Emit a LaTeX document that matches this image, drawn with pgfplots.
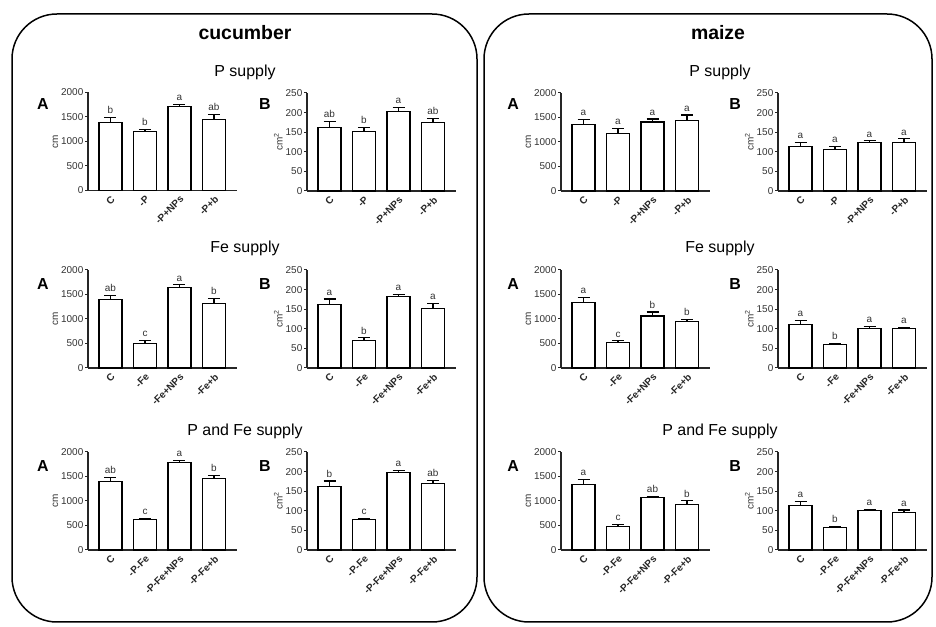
\documentclass[border=0pt]{standalone}
\usepackage{fontspec}
\setmainfont{Liberation Sans}
\usepackage{pgfplots}
\usepackage{pgfplotstable}
\pgfplotsset{compat=1.18}

\pgfplotstableread{
x y e lbl
0 1390 96 b
1 1199 54 b
2 1712 48 a
3 1452 96 ab
}\cucPA
\pgfplotstableread{
x y e lbl
0 162 15 ab
1 152 11 b
2 202 12 a
3 174 12 ab
}\cucPB
\pgfplotstableread{
x y e lbl
0 1354 109 a
1 1177 95 a
2 1408 61 a
3 1435 116 a
}\maiPA
\pgfplotstableread{
x y e lbl
0 113.6 10 a
1 106 8 a
2 123 5 a
3 124.6 8.5 a
}\maiPB
\pgfplotstableread{
x y e lbl
0 1392 94 ab
1 500 68 c
2 1642 54 a
3 1318 101 b
}\cucFA
\pgfplotstableread{
x y e lbl
0 161 15 a
1 71 6 b
2 181.6 6.5 a
3 152 12.7 a
}\cucFB
\pgfplotstableread{
x y e lbl
0 1345 101 a
1 520 34 c
2 1061 81 b
3 953 33 b
}\maiFA
\pgfplotstableread{
x y e lbl
0 112 9.6 a
1 59 3.5 b
2 100 6 a
3 100 3 a
}\maiFB
\pgfplotstableread{
x y e lbl
0 1390 88 ab
1 630 21 c
2 1783 41 a
3 1458 61 b
}\cucPFA
\pgfplotstableread{
x y e lbl
0 161 15 b
1 78 2 c
2 197.5 5 a
3 169.5 7.5 ab
}\cucPFB
\pgfplotstableread{
x y e lbl
0 1336 108 a
1 481 48 c
2 1064 34 ab
3 922 81 b
}\maiPFA
\pgfplotstableread{
x y e lbl
0 113 10 a
1 57 4 b
2 100 3 a
3 95 7 a
}\maiPFB

\pgfplotsset{
 panel/.style={
  scale only axis, width=149bp, height=98bp, anchor=south west,
  xmin=-0.652, xmax=3.667, ymin=0,
  axis x line*=bottom, axis y line*=left,
  axis line style={line width=1.1bp, black!85},
  xtick={0,1,2,3},
  x tick label style={rotate=45, anchor=north east, font=\bfseries\fontsize{10}{11}\selectfont, inner sep=1bp, text=black!85},
  y tick label style={font=\fontsize{10}{11}\selectfont, text=black!80, inner sep=1.5bp},
  /pgf/number format/assume math mode=true,
  /pgf/number format/1000 sep={},
  tick align=outside,
  x tick style={draw=none},
  y tick style={line width=1bp, black!85},
  major tick length=3bp,
  ylabel style={font=\fontsize{10}{11}\selectfont, text=black!80, yshift=-2bp},
  clip=false,
 }
}

\newcommand{\panel}[7]{%
 \begin{axis}[panel, at={(#1bp,#2bp)}, ymax=#3, ytick={#4}, ylabel={#5}, xticklabels={#6}]
 \addplot[ybar, bar width=23bp, fill=white, draw=black, line width=1.1bp,
   error bars/.cd, y dir=plus, y explicit,
   error bar style={line width=1.1bp, black},
   error mark options={rotate=90, line width=1.1bp, mark size=6bp, black}]
  table[x=x, y=y, y error=e]{#7};
 \addplot[draw=none, mark=none, nodes near coords, point meta=explicit symbolic,
   nodes near coords style={font=\fontsize{10}{11}\selectfont, text=black!80, anchor=south, inner sep=1bp, yshift=2.5bp}]
  table[x=x, y expr=\thisrow{y}+\thisrow{e}, meta=lbl]{#7};
 \end{axis}}

\begin{document}
\begin{tikzpicture}[x=1bp, y=1bp]
\useasboundingbox (0,0) rectangle (936,627);
\draw[line width=1.5bp, rounded corners=45bp] (12,5) rectangle (477,613);
\draw[line width=1.5bp, rounded corners=45bp] (484,5) rectangle (932,613);

\node[font=\bfseries\fontsize{19.5}{22}\selectfont] at (245,594) {cucumber};
\node[font=\bfseries\fontsize{19.5}{22}\selectfont] at (718,594) {maize};

\foreach \xx in {245,720} {
 \node[font=\fontsize{16}{18}\selectfont] at (\xx,555) {P supply};
 \node[font=\fontsize{16}{18}\selectfont] at (\xx,379) {Fe supply};
 \node[font=\fontsize{16}{18}\selectfont] at (\xx,196) {P and Fe supply};
}
\foreach \yy in {523,343,161} {
 \node[font=\bfseries\fontsize{16}{18}\selectfont] at (43,\yy) {A};
 \node[font=\bfseries\fontsize{16}{18}\selectfont] at (265,\yy) {B};
 \node[font=\bfseries\fontsize{16}{18}\selectfont] at (513,\yy) {A};
 \node[font=\bfseries\fontsize{16}{18}\selectfont] at (735,\yy) {B};
}

% row 1
\panel{88}{436.5}{2000}{0,500,...,2000}{cm}{C,-P,-P+NPs,-P+b}{\cucPA}
\panel{307}{436}{250}{0,50,...,250}{cm\textsuperscript{2}}{C,-P,-P+NPs,-P+b}{\cucPB}
\panel{561}{436}{2000}{0,500,...,2000}{cm}{C,-P,-P+NPs,-P+b}{\maiPA}
\panel{778}{436}{250}{0,50,...,250}{cm\textsuperscript{2}}{C,-P,-P+NPs,-P+b}{\maiPB}
% row 2
\panel{88}{259}{2000}{0,500,...,2000}{cm}{C,-Fe,-Fe+NPs,-Fe+b}{\cucFA}
\panel{307}{259}{250}{0,50,...,250}{cm\textsuperscript{2}}{C,-Fe,-Fe+NPs,-Fe+b}{\cucFB}
\panel{561}{259}{2000}{0,500,...,2000}{cm}{C,-Fe,-Fe+NPs,-Fe+b}{\maiFA}
\panel{778}{259}{250}{0,50,...,250}{cm\textsuperscript{2}}{C,-Fe,-Fe+NPs,-Fe+b}{\maiFB}
% row 3
\panel{88}{77}{2000}{0,500,...,2000}{cm}{C,-P-Fe,-P-Fe+NPs,-P-Fe+b}{\cucPFA}
\panel{307}{77}{250}{0,50,...,250}{cm\textsuperscript{2}}{C,-P-Fe,-P-Fe+NPs,-P-Fe+b}{\cucPFB}
\panel{561}{77}{2000}{0,500,...,2000}{cm}{C,-P-Fe,-P-Fe+NPs,-P-Fe+b}{\maiPFA}
\panel{778}{77}{250}{0,50,...,250}{cm\textsuperscript{2}}{C,-P-Fe,-P-Fe+NPs,-P-Fe+b}{\maiPFB}
\end{tikzpicture}
\end{document}
